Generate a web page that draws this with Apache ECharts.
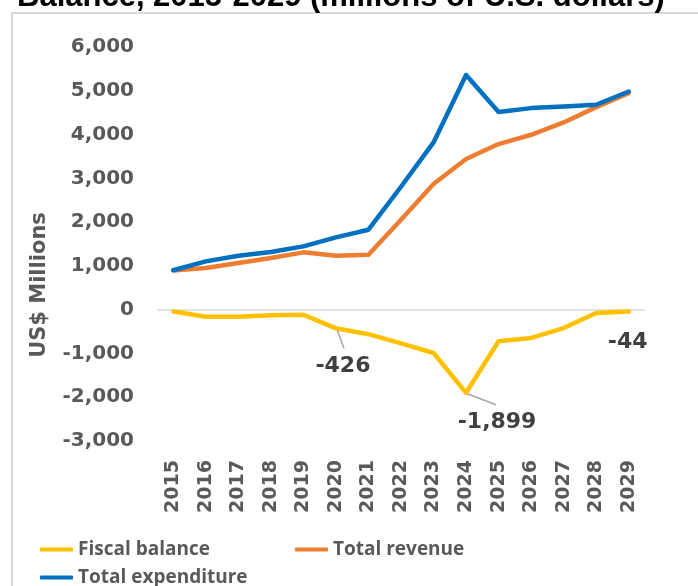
<!DOCTYPE html>
<html>
<head>
<meta charset="utf-8">
<script src="https://cdn.jsdelivr.net/npm/echarts@6/dist/echarts.min.js"></script>
<style>
  html, body { margin: 0; padding: 0; background: #fff; }
  #chart { width: 698px; height: 586px; }
</style>
</head>
<body>
<div id="chart"></div>
<script>
// Fiscal accounts, 2015-2029, in millions of US dollars
const years = ['2015','2016','2017','2018','2019','2020','2021','2022','2023','2024','2025','2026','2027','2028','2029'];
const fiscalBalance     = [-40, -160, -160, -130, -115, -426, -560, -770, -990, -1899, -720, -645, -420, -75, -44];
const totalRevenue      = [897, 952, 1066, 1180, 1309, 1233, 1256, 2055, 2869, 3440, 3783, 3995, 4277, 4627, 4947];
const totalExpenditure  = [900, 1103, 1233, 1317, 1446, 1652, 1826, 2808, 3820, 5360, 4513, 4604, 4640, 4680, 4984];
const yTicks = { min: -3000, max: 6000, step: 1000 };

// balance points that carry a value label: label offset and optional leader line end (px from the point)
const callouts = [
  { index: 5,  label: [7, 38],  leader: [8, 20] },
  { index: 9,  label: [31, 29], leader: [30, 12] },
  { index: 14, label: [-1, 31], leader: null }
];

const numFont = 'DejaVu Sans';
const textFont = 'Open Sans';
const grey = '#595959';

function fmt(v) {
  return Number(v).toLocaleString('en-US');
}

const calloutData = callouts.map(c => [c.index, fiscalBalance[c.index]]);

function renderCallout(params, api) {
  const c = callouts[params.dataIndex];
  const pt = api.coord([api.value(0), api.value(1)]);
  const children = [];
  if (c.leader) {
    children.push({
      type: 'line',
      shape: { x1: pt[0] + 1, y1: pt[1] + 1, x2: pt[0] + c.leader[0], y2: pt[1] + c.leader[1] },
      style: { stroke: '#a6a6a6', lineWidth: 1.5 }
    });
  }
  children.push({
    type: 'text',
    x: pt[0] + c.label[0],
    y: pt[1] + c.label[1],
    style: {
      text: fmt(api.value(1)),
      fontFamily: numFont,
      fontWeight: 'bold',
      fontSize: 22,
      fill: '#404040',
      align: 'center',
      verticalAlign: 'middle'
    }
  });
  return { type: 'group', children: children };
}

const chart = echarts.init(document.getElementById('chart'), null, { renderer: 'canvas' });

const legendText = { fontFamily: textFont, fontWeight: 'bold', fontSize: 19, color: grey };
const legendBase = {
  orient: 'horizontal',
  padding: 0,
  itemWidth: 33,
  itemHeight: 4,
  icon: 'roundRect',
  selectedMode: false,
  textStyle: legendText
};

chart.setOption({
  animation: false,
  backgroundColor: '#ffffff',
  grid: { left: 157, right: 53, top: 47, bottom: 145, containLabel: false },
  xAxis: {
    type: 'category',
    data: years,
    boundaryGap: true,
    position: 'bottom',
    axisLine: { show: false, onZero: false },
    axisTick: { show: false },
    axisLabel: {
      rotate: 90,
      margin: 19,
      interval: 0,
      fontFamily: numFont,
      fontWeight: 'bold',
      fontSize: 19,
      color: grey
    }
  },
  yAxis: {
    type: 'value',
    min: yTicks.min,
    max: yTicks.max,
    interval: yTicks.step,
    axisLine: { show: false },
    axisTick: { show: false },
    splitLine: { show: false },
    axisLabel: {
      margin: 23,
      fontFamily: numFont,
      fontWeight: 'bold',
      fontSize: 20,
      color: grey,
      formatter: v => fmt(v)
    }
  },
  legend: [
    Object.assign({}, legendBase, { left: 40, top: 540, data: ['Fiscal balance'] }),
    Object.assign({}, legendBase, { left: 295, top: 540, data: ['Total revenue'] }),
    Object.assign({}, legendBase, { left: 40, top: 568, data: ['Total expenditure'] })
  ],
  graphic: [
    {
      type: 'rect',
      silent: true,
      z: -1,
      shape: { x: 12, y: 13, width: 720, height: 620 },
      style: { fill: 'none', stroke: '#d9d9d9', lineWidth: 2 }
    },
    {
      type: 'text',
      silent: true,
      left: 17,
      top: -18,
      style: {
        text: 'Balance, 2015-2029 (millions of U.S. dollars)',
        fontFamily: 'Liberation Sans',
        fontWeight: 'bold',
        fontSize: 31,
        fill: '#000000'
      }
    },
    {
      type: 'text',
      silent: true,
      x: 40,
      y: 285,
      rotation: Math.PI / 2,
      style: {
        text: 'US$ Millions',
        fontFamily: numFont,
        fontWeight: 'bold',
        fontSize: 21,
        fill: grey,
        align: 'center',
        verticalAlign: 'middle'
      }
    }
  ],
  series: [
    {
      name: 'Fiscal balance',
      type: 'line',
      data: fiscalBalance,
      color: '#FFC000',
      symbol: 'none',
      lineStyle: { width: 4.5, color: '#FFC000', cap: 'round', join: 'round' },
      z: 3,
      markLine: {
        silent: true,
        symbol: 'none',
        label: { show: false },
        lineStyle: { color: '#d9d9d9', width: 1.5, type: 'solid' },
        data: [{ yAxis: 0 }],
        z: 1
      }
    },
    {
      name: 'Total revenue',
      type: 'line',
      data: totalRevenue,
      color: '#ED7D31',
      symbol: 'none',
      lineStyle: { width: 4.5, color: '#ED7D31', cap: 'round', join: 'round' },
      z: 4
    },
    {
      name: 'Total expenditure',
      type: 'line',
      data: totalExpenditure,
      color: '#0070C0',
      symbol: 'none',
      lineStyle: { width: 4.5, color: '#0070C0', cap: 'round', join: 'round' },
      z: 5
    },
    {
      name: 'balance labels',
      type: 'custom',
      data: calloutData,
      encode: { x: 0, y: 1 },
      renderItem: renderCallout,
      silent: true,
      z: 2
    }
  ]
});
</script>
</body>
</html>
